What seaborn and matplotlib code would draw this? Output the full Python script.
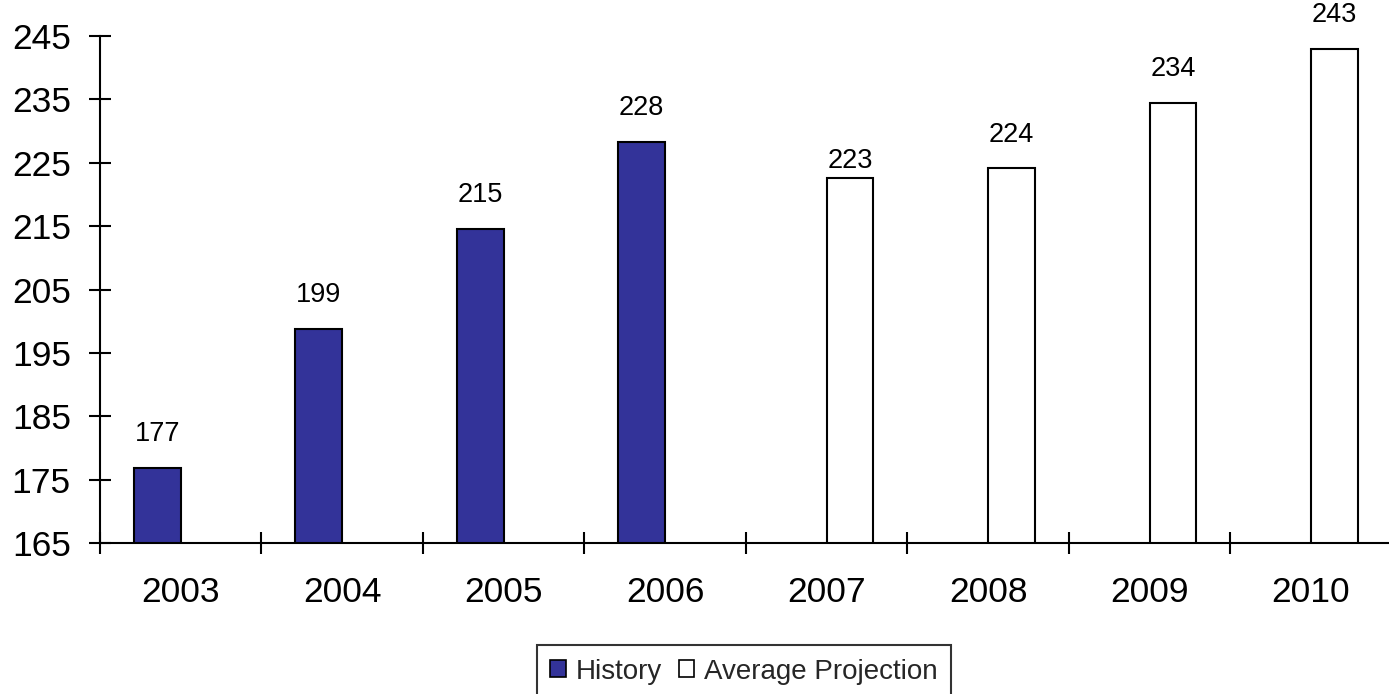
import matplotlib
matplotlib.use("Agg")
import matplotlib.pyplot as plt
import seaborn as sns
import pandas as pd
from matplotlib.patches import Patch
from matplotlib.ticker import FixedLocator

years = ["2003", "2004", "2005", "2006", "2007", "2008", "2009", "2010"]
values = [176.9, 198.8, 214.6, 228.3, 222.6, 224.1, 234.4, 243.0]
series = ["History", "History", "History", "History",
          "Average Projection", "Average Projection", "Average Projection", "Average Projection"]
series_order = ["History", "Average Projection"]
colors = {"History": "#333399", "Average Projection": "#ffffff"}

sns.set_theme(style="white")
plt.rcParams['font.family'] = ['Liberation Sans', 'DejaVu Sans']

df = pd.DataFrame({"year": years, "value": values, "series": series})

fig = plt.figure(figsize=(13.89, 6.94), dpi=100)
ax = fig.add_axes([0.072, 0.2176, 0.930, 0.7305])

sns.barplot(data=df, x="year", y="value", hue="series", hue_order=series_order,
            order=years, palette=colors, saturation=1, width=0.58, dodge=True,
            edgecolor="black", linewidth=1.5, legend=False, ax=ax, errorbar=None)

ax.set_ylim(165, 245)
ax.set_yticks(range(165, 246, 10))
ax.set_xlim(-0.5, len(years) - 0.5)
ax.set_xlabel("")
ax.set_ylabel("")

for s in ["top", "right"]:
    ax.spines[s].set_visible(False)
for s in ["left", "bottom"]:
    ax.spines[s].set_linewidth(1.5)
    ax.spines[s].set_color("black")

ax.tick_params(axis="y", which="major", direction="inout", length=16, width=1.5,
               colors="black", labelsize=25.5, pad=13, left=True)
ax.tick_params(axis="x", which="major", length=0, labelsize=25.5, pad=24, colors="black")
ax.xaxis.set_minor_locator(FixedLocator([i - 0.5 for i in range(len(years) + 1)]))
ax.tick_params(axis="x", which="minor", direction="inout", length=16, width=1.5,
               colors="black", bottom=True)

# value labels
pads = {"2007": 3.0}
for patch in ax.patches:
    h = patch.get_height()
    if h is None or pd.isna(h) or patch.get_width() == 0:
        continue
    cx = patch.get_x() + patch.get_width() / 2
    idx = int(round(cx))
    yr = years[idx]
    ax.annotate(f"{h:.0f}", xy=(cx, h), xytext=(0, pads.get(yr, 15)),
                textcoords="offset points", ha="center", va="bottom",
                fontsize=19.5, color="black")

handles = [Patch(facecolor=colors[s], edgecolor="black", linewidth=1.2) for s in series_order]
leg = fig.legend(handles, series_order, loc="upper center", bbox_to_anchor=(0.5356, 0.071),
                 ncol=2, frameon=True, fontsize=20, handlelength=0.56, handleheight=0.56,
                 handletextpad=0.35, columnspacing=0.6, borderpad=0.5, borderaxespad=0,
                 fancybox=False)
leg.get_frame().set_edgecolor("black")
leg.get_frame().set_linewidth(1.5)

fig.savefig("out.png", dpi=100)
